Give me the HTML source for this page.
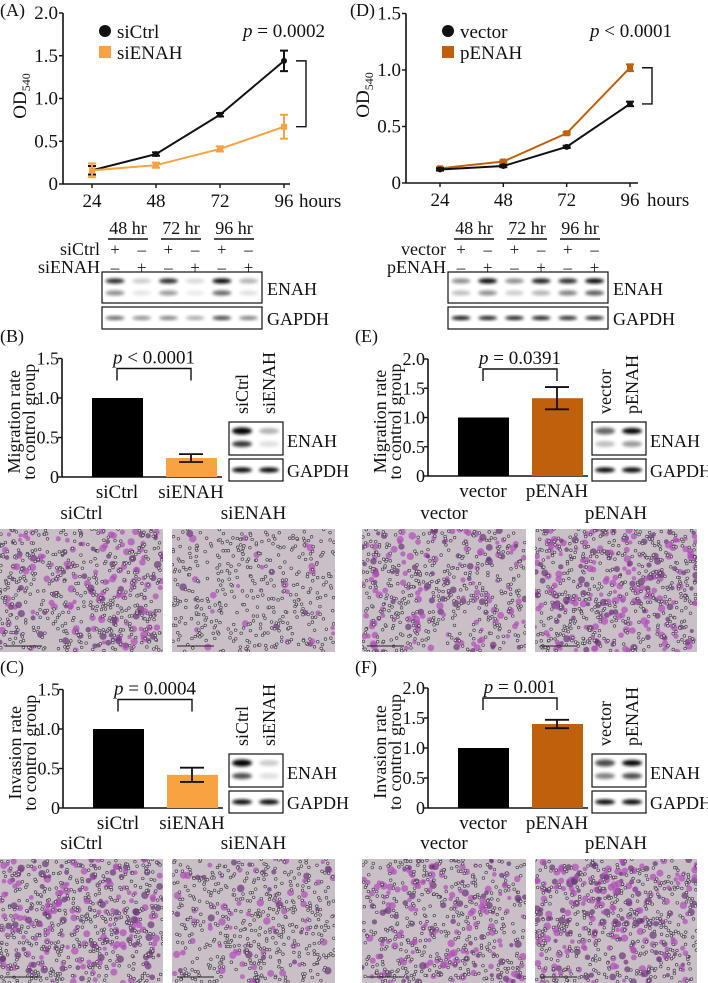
<!DOCTYPE html>
<html><head><meta charset="utf-8"><style>
html,body{margin:0;padding:0;background:#fff;}
svg{display:block;font-family:"Liberation Serif",serif;}
</style></head><body>
<svg id="fig" width="708" height="983" viewBox="0 0 708 983" xmlns="http://www.w3.org/2000/svg">
<defs>
<filter id="blur" x="-50%" y="-50%" width="200%" height="200%"><feGaussianBlur stdDeviation="1.6"/></filter>
</defs>
</svg>
<script>
// ---------- data ----------
const hours = [24, 48, 72, 96];
const siCtrlOD = [0.16, 0.35, 0.81, 1.44];
const siCtrlErr = [0.05, 0.02, 0.02, 0.12];
const siENAHOD = [0.16, 0.22, 0.41, 0.67];
const siENAHErr = [0.08, 0.03, 0.03, 0.14];
const vectorOD = [0.12, 0.15, 0.32, 0.70];
const vectorErr = [0.01, 0.01, 0.01, 0.02];
const pENAHOD = [0.13, 0.19, 0.44, 1.02];
const pENAHErr = [0.01, 0.01, 0.01, 0.03];
const ticksA = [0, 0.5, 1.0, 1.5, 2.0];
const ticksD = [0, 0.5, 1.0, 1.5];
const ticks15 = [0, 0.5, 1.0, 1.5];
const ticks20 = [0, 0.5, 1.0, 1.5, 2.0];
const migKD = [1.0, 0.24]; const migKDErr = [0, 0.05];
const invKD = [1.0, 0.42]; const invKDErr = [0, 0.09];
const migOE = [1.0, 1.33]; const migOEErr = [0, 0.19];
const invOE = [1.0, 1.40]; const invOEErr = [0, 0.07];

const svg = document.getElementById('fig');
const NS = 'http://www.w3.org/2000/svg';
const LIGHT = '#f9a241', DARK = '#c0600c';
const FS = 19;
function el(tag, a, parent) {
  const e = document.createElementNS(NS, tag);
  for (const k in a) e.setAttribute(k, a[k]);
  (parent || svg).appendChild(e); return e;
}
function txt(x, y, s, size, anchor, parent, extra) {
  const t = el('text', Object.assign({x: x, y: y, 'font-size': size, 'text-anchor': anchor || 'start', fill: '#111'}, extra || {}), parent);
  t.textContent = s; return t;
}
function fmt(v) { return v === 0 ? '0' : v.toFixed(1); }

// ---------- line charts ----------
function lineChart(o) {
  const g = el('g', {});
  
  
  const xs = h => o.x0 + (h - 24) / 72 * (o.x1 - o.x0);
  const ys = v => o.y0 - v * o.k;
  txt(o.px, 16, o.panel, 18, 'start', g);
  el('line', {x1: o.ax, y1: ys(o.ticks[o.ticks.length - 1]), x2: o.ax, y2: o.y0, stroke: '#111', 'stroke-width': 1.6}, g);
  el('line', {x1: o.ax, y1: o.y0, x2: o.xend, y2: o.y0, stroke: '#111', 'stroke-width': 1.6}, g);
  o.ticks.forEach(t => {
    el('line', {x1: o.ax - 4, y1: ys(t), x2: o.ax, y2: ys(t), stroke: '#111', 'stroke-width': 1.4}, g);
    txt(o.ax - 5, ys(t) + 6, fmt(t), FS, 'end', g);
  });
  hours.forEach(h => {
    el('line', {x1: xs(h), y1: o.y0, x2: xs(h), y2: o.y0 + 4, stroke: '#111', 'stroke-width': 1.4}, g);
    txt(xs(h), o.y0 + 23, String(h), FS, 'middle', g);
  });
  txt(o.xend + 9, o.y0 + 23, 'hours', FS, 'start', g);
  const yl = txt(0, 0, 'OD', FS, 'middle', g, {transform: 'translate(' + (o.ax - 37) + ',' + (o.y0 - 88) + ') rotate(-90)'});
  const sub = el('tspan', {'font-size': 12, dy: 4}, yl); sub.textContent = '540';
  o.series.forEach(s => {
    const pts = hours.map((h, i) => xs(h) + ',' + ys(s.v[i])).join(' ');
    el('polyline', {points: pts, fill: 'none', stroke: s.c, 'stroke-width': 2}, g);
    hours.forEach((h, i) => {
      const x = xs(h), y1 = ys(s.v[i] + s.e[i]), y2 = ys(s.v[i] - s.e[i]);
      el('line', {x1: x, y1: y1, x2: x, y2: y2, stroke: s.c, 'stroke-width': 2}, g);
      el('line', {x1: x - 4, y1: y1, x2: x + 4, y2: y1, stroke: s.c, 'stroke-width': 2}, g);
      el('line', {x1: x - 4, y1: y2, x2: x + 4, y2: y2, stroke: s.c, 'stroke-width': 2}, g);
      if (s.sq) el('rect', {x: x - 3, y: ys(s.v[i]) - 3, width: 6, height: 6, fill: s.c}, g);
      else el('circle', {cx: x, cy: ys(s.v[i]), r: 3, fill: s.c}, g);
    });
  });
  o.series.forEach((s, i) => {
    const ly = o.ly + s.li * 21;
    if (s.sq) el('rect', {x: o.lx - 6, y: ly - 6, width: 12, height: 12, fill: s.c}, g);
    else el('circle', {cx: o.lx, cy: ly, r: 6, fill: s.c}, g);
    txt(o.lx + 12, ly + 7, s.label, FS, 'start', g);
  });
  const p = txt(o.pxTxt, 37, '', FS, 'start', g);
  const pi = el('tspan', {'font-style': 'italic'}, p); pi.textContent = 'p';
  const pr = el('tspan', {}, p); pr.textContent = o.ptext;
  const b1 = ys(o.series[0].v[3]), b2 = ys(o.series[1].v[3]);
  const bx = xs(96) + 12;
  el('polyline', {points: bx + ',' + b1 + ' ' + (bx + 10) + ',' + b1 + ' ' + (bx + 10) + ',' + b2 + ' ' + bx + ',' + b2, fill: 'none', stroke: '#111', 'stroke-width': 1.4}, g);
}
lineChart({name: 'growth-chart-a', panel: '(A)', px: 0, ax: 63, x0: 92, x1: 284, xend: 290, y0: 184, k: 85.5, ticks: ticksA,
  series: [{v: siCtrlOD, e: siCtrlErr, c: '#111', label: 'siCtrl', li: 0}, {v: siENAHOD, e: siENAHErr, c: LIGHT, sq: true, label: 'siENAH', li: 1}],
  lx: 105, ly: 31, pxTxt: 243, ptext: ' = 0.0002'});
lineChart({name: 'growth-chart-d', panel: '(D)', px: 350, ax: 406, x0: 440, x1: 630, xend: 638, y0: 183, k: 113, ticks: ticksD,
  series: [{v: pENAHOD, e: pENAHErr, c: DARK, sq: true, label: 'pENAH', li: 1}, {v: vectorOD, e: vectorErr, c: '#111', label: 'vector', li: 0}],
  lx: 448, ly: 31, pxTxt: 590, ptext: ' < 0.0001'});

// ---------- blots ----------
function band(g, cx, cy, w, h, op) {
  el('ellipse', {cx: cx, cy: cy, rx: w / 2, ry: h / 2, fill: '#000', opacity: op, filter: 'url(#blur)'}, g);
}
function timeBlot(o) {
  const g = el('g', {});
  
  
  ['48 hr', '72 hr', '96 hr'].forEach((s, i) => {
    const cx = o.x + 26 + i * 53;
    txt(cx, 234, s, 18, 'middle', g);
    el('line', {x1: cx - 20, y1: 239, x2: cx + 20, y2: 239, stroke: '#111', 'stroke-width': 1.4}, g);
  });
  txt(o.x - 2, 255, o.r1, 18, 'end', g);
  txt(o.x - 2, 273, o.r2, 18, 'end', g);
  for (let i = 0; i < 6; i++) {
    const cx = o.x + 13 + i * 26.7;
    txt(cx, 255, i % 2 ? '\u2013' : '+', 17, 'middle', g);
    txt(cx, 273, i % 2 ? '+' : '\u2013', 17, 'middle', g);
    band(g, cx, 281, 19, 5, o.top[i]);
    band(g, cx, 293, 19, 5, o.bot[i]);
    band(g, cx, 318, 19, 4, o.gap[i]);
  }
  el('rect', {x: o.x, y: 272, width: 160, height: 31, fill: 'none', stroke: '#111', 'stroke-width': 1.2}, g);
  el('rect', {x: o.x, y: 307, width: 160, height: 22, fill: 'none', stroke: '#111', 'stroke-width': 1.2}, g);
  txt(o.x + 165, 295, 'ENAH', 18, 'start', g);
  txt(o.x + 165, 325, 'GAPDH', 18, 'start', g);
}
timeBlot({name: 'western-blot-a', x: 102, r1: 'siCtrl', r2: 'siENAH', top: [.85, .2, .85, .15, 1, .3], bot: [.45, .1, .4, .08, .6, .12], gap: [.6, .45, .5, .35, .75, .5]});
timeBlot({name: 'western-blot-d', x: 448, r1: 'vector', r2: 'pENAH', top: [.45, 1, .45, .9, .85, 1], bot: [.25, .45, .2, .3, .5, .65], gap: [.95, .9, .9, .9, .85, .85]});

function smallBlot(name, x, yE, l1, l2, op) {
  const g = el('g', {});
  
  
  txt(0, 0, l1, 18, 'start', g, {transform: 'translate(' + (x + 19) + ',' + (yE - 8) + ') rotate(-90)'});
  txt(0, 0, l2, 18, 'start', g, {transform: 'translate(' + (x + 46) + ',' + (yE - 8) + ') rotate(-90)'});
  band(g, x + 13, yE + 9, 20, 7, op[0]); band(g, x + 40, yE + 9, 20, 6, op[1]);
  band(g, x + 13, yE + 22, 20, 6, op[2]); band(g, x + 40, yE + 22, 20, 6, op[3]);
  band(g, x + 13, yE + 48, 20, 5, 1); band(g, x + 40, yE + 48, 20, 5, 1);
  el('rect', {x: x, y: yE, width: 54, height: 33, fill: 'none', stroke: '#111', 'stroke-width': 1.2}, g);
  el('rect', {x: x, y: yE + 37, width: 54, height: 22, fill: 'none', stroke: '#111', 'stroke-width': 1.2}, g);
  txt(x + 58, yE + 25, 'ENAH', 18, 'start', g);
  txt(x + 58, yE + 55, 'GAPDH', 18, 'start', g);
}
smallBlot('western-blot-b', 229, 422, 'siCtrl', 'siENAH', [1, .3, .8, .12]);
smallBlot('western-blot-c', 229, 754, 'siCtrl', 'siENAH', [1, .2, .7, .12]);
smallBlot('western-blot-e', 592, 422, 'vector', 'pENAH', [.6, 1, .25, .4]);
smallBlot('western-blot-f', 592, 754, 'vector', 'pENAH', [.7, 1, .5, .7]);

// ---------- bar charts ----------
function barChart(o) {
  const g = el('g', {});
  
  
  const ys = v => o.y0 - v * o.k;
  const top = o.ticks[o.ticks.length - 1];
  txt(o.px, o.py, o.panel, 18, 'start', g);
  el('line', {x1: o.ax, y1: ys(top), x2: o.ax, y2: o.y0, stroke: '#111', 'stroke-width': 1.6}, g);
  el('line', {x1: o.ax, y1: o.y0, x2: o.ax + 160, y2: o.y0, stroke: '#111', 'stroke-width': 1.6}, g);
  o.ticks.forEach(t => {
    el('line', {x1: o.ax - 4, y1: ys(t), x2: o.ax, y2: ys(t), stroke: '#111', 'stroke-width': 1.4}, g);
    txt(o.ax - 3, ys(t) + 6, fmt(t), 18, 'end', g);
  });
  const cx = [o.ax + 55, o.ax + 129];
  o.vals.forEach((v, i) => {
    const b = el('rect', {x: cx[i] - 25, y: ys(v), width: 51, height: o.y0 - ys(v), fill: i ? o.color : '#000'}, g);
    
    
    if (o.errs[i]) {
      const a = ys(v + o.errs[i]), c = ys(v - o.errs[i]);
      el('line', {x1: cx[i], y1: a, x2: cx[i], y2: c, stroke: '#111', 'stroke-width': 1.8}, g);
      el('line', {x1: cx[i] - 12, y1: a, x2: cx[i] + 12, y2: a, stroke: '#111', 'stroke-width': 1.8}, g);
      el('line', {x1: cx[i] - 12, y1: c, x2: cx[i] + 12, y2: c, stroke: '#111', 'stroke-width': 1.8}, g);
    }
    txt(cx[i], o.y0 + 21, o.cats[i], FS, 'middle', g);
  });
  const by = ys(top) + 10;
  el('polyline', {points: cx[0] + ',' + (by + 12) + ' ' + cx[0] + ',' + by + ' ' + cx[1] + ',' + by + ' ' + cx[1] + ',' + (by + 12), fill: 'none', stroke: '#111', 'stroke-width': 1.4}, g);
  const p = txt((cx[0] + cx[1]) / 2, by - 5, '', FS, 'middle', g);
  const pi = el('tspan', {'font-style': 'italic'}, p); pi.textContent = 'p';
  const pr = el('tspan', {}, p); pr.textContent = o.ptext;
  const mid = o.y0 - (o.y0 - ys(top)) / 2 + 4;
  txt(0, 0, o.yl1, 18, 'middle', g, {transform: 'translate(' + (o.ax - 42) + ',' + mid + ') rotate(-90)'});
  txt(0, 0, 'to control group', 18, 'middle', g, {transform: 'translate(' + (o.ax - 27) + ',' + mid + ') rotate(-90)'});
}
barChart({name: 'migration-chart-b', panel: '(B)', px: 0, py: 342, ax: 62, y0: 477, k: 79, ticks: ticks15, vals: migKD, errs: migKDErr, cats: ['siCtrl', 'siENAH'], color: LIGHT, ptext: ' < 0.0001', yl1: 'Migration rate'});
barChart({name: 'invasion-chart-c', panel: '(C)', px: 0, py: 673, ax: 63, y0: 808, k: 79, ticks: ticks15, vals: invKD, errs: invKDErr, cats: ['siCtrl', 'siENAH'], color: LIGHT, ptext: ' = 0.0004', yl1: 'Invasion rate'});
barChart({name: 'migration-chart-e', panel: '(E)', px: 355, py: 342, ax: 428, y0: 476, k: 58.5, ticks: ticks20, vals: migOE, errs: migOEErr, cats: ['vector', 'pENAH'], color: DARK, ptext: ' = 0.0391', yl1: 'Migration rate'});
barChart({name: 'invasion-chart-f', panel: '(F)', px: 355, py: 673, ax: 428, y0: 808, k: 60, ticks: ticks20, vals: invOE, errs: invOEErr, cats: ['vector', 'pENAH'], color: DARK, ptext: ' = 0.001', yl1: 'Invasion rate'});

// ---------- micrographs (texture) ----------
let seed = 7;
function rnd() { seed = (seed * 16807) % 2147483647; return seed / 2147483647; }
function photo(name, label, x, y, w, h, density, pinkness) {
  const g = el('g', {});
  
  
  txt(x + w / 2, y - 10, label, FS, 'middle', g);
  const cid = 'clip' + name;
  const cp = el('clipPath', {id: cid}, g); el('rect', {x: x, y: y, width: w, height: h}, cp);
  const ig = el('g', {'clip-path': 'url(#' + cid + ')'}, g);
  el('rect', {x: x, y: y, width: w, height: h, fill: '#c9bfc6'}, ig);
  const nP = Math.round(w * h / 100 * pinkness);
  for (let i = 0; i < nP; i++) el('circle', {cx: x + rnd() * w, cy: y + rnd() * h, r: 2 + rnd() * 1.8, fill: rnd() < .35 ? '#6a3478' : '#b04cb8', opacity: .7}, ig);
  const nR = Math.round(w * h / 45 * density);
  for (let i = 0; i < nR; i++) el('circle', {cx: x + rnd() * w, cy: y + rnd() * h, r: 1.3, fill: '#dcd6da', stroke: '#4a4050', 'stroke-width': .7}, ig);
  el('line', {x1: x + 5, y1: y + h - 6, x2: x + 42, y2: y + h - 6, stroke: '#222', 'stroke-width': 1}, ig);
}
photo('photo-b-sictrl', 'siCtrl', 0, 529, 163, 123, 1, .9);
photo('photo-b-sienah', 'siENAH', 172, 529, 163, 123, .9, .15);
photo('photo-c-sictrl', 'siCtrl', 0, 859, 163, 124, 1, 1.1);
photo('photo-c-sienah', 'siENAH', 172, 859, 163, 124, 1, .4);
photo('photo-e-vector', 'vector', 362, 529, 164, 123, .9, .8);
photo('photo-e-penah', 'pENAH', 535, 529, 162, 123, 1, 1.2);
photo('photo-f-vector', 'vector', 362, 859, 164, 124, .9, .9);
photo('photo-f-penah', 'pENAH', 535, 859, 162, 124, .9, 1.3);
</script>
</body></html>
